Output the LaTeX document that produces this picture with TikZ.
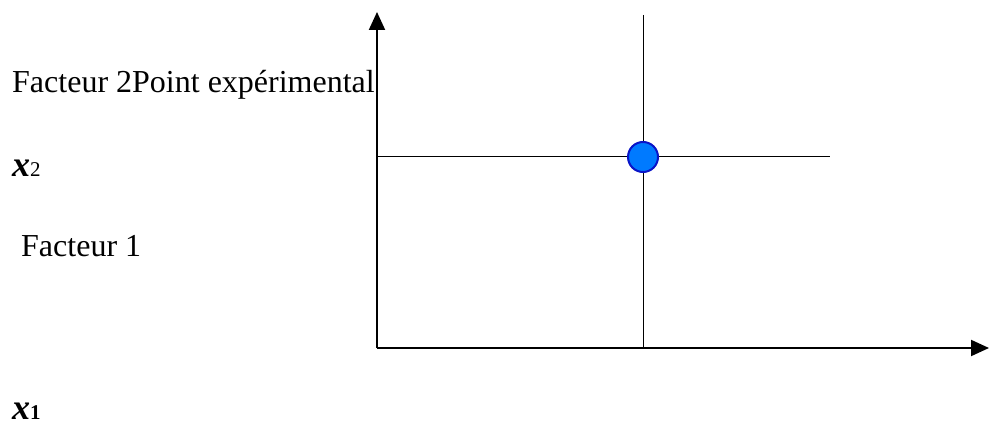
\documentclass[tikz,border=0pt]{standalone}
\usepackage{fontspec}
\setmainfont{Liberation Serif}
\usetikzlibrary{arrows.meta}
\definecolor{ptfill}{RGB}{0,122,255}
\definecolor{ptdraw}{RGB}{10,20,200}
\newcommand{\bigx}{\fontsize{36}{38}\selectfont\textbf{\textit{x}}}
\newcommand{\subsz}{\fontsize{21}{24}\selectfont}
\begin{document}
\begin{tikzpicture}[x=1pt,y=-1pt,
  lbl/.style={anchor=base west,inner sep=0pt,font=\fontsize{32}{38}\selectfont},
  axis/.style={line width=2pt,-{Triangle[length=18pt,width=16pt]}},
  thin/.style={line width=1pt},
  pt/.style={circle,minimum size=30pt,inner sep=0pt,fill=ptfill,draw=ptdraw,line width=2pt}]
\useasboundingbox (0,0) rectangle (989,425);
\coordinate (O) at (377,348);
\coordinate (Ytip) at (377,12);
\coordinate (Xtip) at (989,348);
\coordinate (Vtop) at (643,15);
\coordinate (Vbot) at (643,348);
\coordinate (Hl) at (377,157);
\coordinate (Hr) at (830,157);
\draw[thin] (Vtop) -- (Vbot);
\draw[thin] (Hl) -- (Hr);
\draw[axis] (O) -- (Ytip);
\draw[axis] (O) -- (Xtip);
\node[pt] (P) at (643,157) {};
\node[lbl] (t1) at (12,93) {Facteur 2Point expérimental};
\node[lbl] (t2) at (12,177) {\bigx\subsz 2};
\node[lbl] (t3) at (21,257) {Facteur 1};
\node[lbl] (t4) at (12,419) {\bigx\subsz\textbf{1}};
\end{tikzpicture}
\end{document}
